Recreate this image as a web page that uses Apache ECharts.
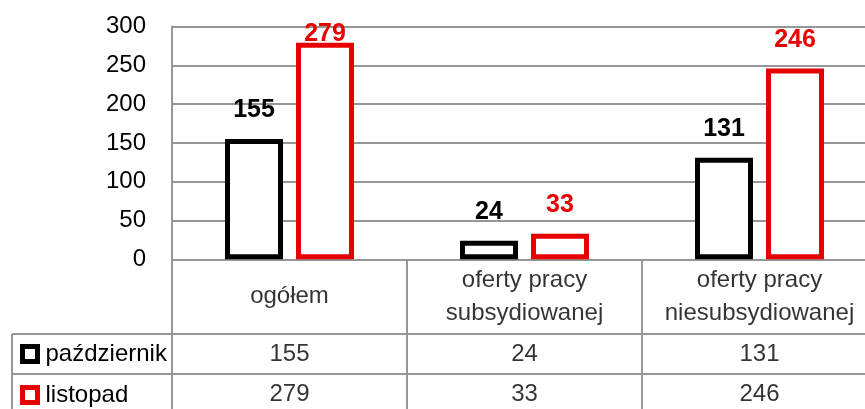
<!DOCTYPE html>
<html>
<head>
<meta charset="utf-8">
<script src="https://cdn.jsdelivr.net/npm/echarts@6/dist/echarts.min.js"></script>
<style>
html,body{margin:0;padding:0;background:#fff;}
#chart{width:865px;height:409px;}
</style>
</head>
<body>
<div id="chart"></div>
<script>
// ---- data ----
const categories = ['ogółem', 'oferty pracy\nsubsydiowanej', 'oferty pracy\nniesubsydiowanej'];
const seriesNames = ['październik', 'listopad'];
const pazdziernik = [155, 24, 131];
const listopad = [279, 33, 246];
const yTicks = [0, 50, 100, 150, 200, 250, 300];

// ---- style ----
const FONT = 'Liberation Sans';
const GRID_COLOR = '#969696';
const colors = ['#000000', '#e60000'];
const seriesValues = [pazdziernik, listopad];

const chart = echarts.init(document.getElementById('chart'));

const lineStyle = {color: GRID_COLOR, width: 2};

const barSeries = seriesNames.map((name, s) => ({
  type: 'bar',
  name: name,
  xAxisIndex: 0, yAxisIndex: 0,
  barWidth: 58,
  barGap: '22.4%',
  itemStyle: {color: '#ffffff', borderColor: colors[s], borderWidth: 5},
  label: {
    show: true, position: 'top', distance: 16,
    fontFamily: FONT, fontSize: 25, fontWeight: 'bold', color: colors[s]
  },
  data: seriesValues[s].map(v => {
    // top-most label is kept inside the chart area (as in the original)
    if (v === Math.max(...listopad) && s === 1) {
      return {value: v, label: {offset: [0, 20]}};
    }
    return v;
  })
}));

const headerSeries = {
  type: 'scatter', xAxisIndex: 1, yAxisIndex: 1,
  symbolSize: 0, silent: true,
  label: {
    show: true, position: 'inside',
    fontFamily: FONT, fontSize: 24, color: '#000', lineHeight: 33,
    formatter: p => categories[p.data[0]]
  },
  data: categories.map((c, i) => [i, 0])
};

const cellSeries = {
  type: 'scatter', xAxisIndex: 2, yAxisIndex: 2,
  symbolSize: 0, silent: true,
  label: {
    show: true, position: 'inside',
    fontFamily: FONT, fontSize: 24, color: '#000',
    formatter: p => String(p.data[2])
  },
  data: seriesValues.flatMap((vals, r) => vals.map((v, i) => [i, r, v]))
};

const gridBase = {outerBoundsMode: 'none', containLabel: false};

const option = {
  backgroundColor: '#ffffff',
  animation: false,
  legend: {
    orient: 'vertical',
    left: 20, top: 342,
    padding: 0,
    itemGap: 17,
    itemWidth: 15, itemHeight: 15,
    icon: 'rect',
    selectedMode: false,
    textStyle: {fontFamily: FONT, fontSize: 24, color: '#000', padding: [0, 0, 0, 3]},
    data: seriesNames.map((n, s) => ({
      name: n,
      itemStyle: {color: '#ffffff', borderColor: colors[s], borderWidth: 5}
    }))
  },
  grid: [
    Object.assign({left: 172, width: 705, top: 26.5, height: 232.8}, gridBase),   // chart
    Object.assign({left: 172, width: 705, top: 259.3, height: 74.7}, gridBase),   // header row
    Object.assign({left: 172, width: 705, top: 334, height: 80}, gridBase),       // value rows
    Object.assign({left: 12, width: 160, top: 334, height: 80}, gridBase)         // legend column
  ],
  xAxis: [
    {gridIndex: 0, type: 'category', data: categories,
     axisLine: {show: true, lineStyle: lineStyle}, axisTick: {show: false},
     axisLabel: {show: false}, splitLine: {show: false}},
    {gridIndex: 1, type: 'category', data: categories,
     axisLine: {show: true, lineStyle: lineStyle}, axisTick: {show: false},
     axisLabel: {show: false}, splitLine: {show: true, lineStyle: lineStyle}},
    {gridIndex: 2, type: 'category', data: categories,
     axisLine: {show: false}, axisTick: {show: false},
     axisLabel: {show: false}, splitLine: {show: true, lineStyle: lineStyle}},
    {gridIndex: 3, type: 'category', data: [''],
     axisLine: {show: false}, axisTick: {show: false},
     axisLabel: {show: false}, splitLine: {show: true, lineStyle: lineStyle}}
  ],
  yAxis: [
    {gridIndex: 0, type: 'value', min: yTicks[0], max: yTicks[yTicks.length - 1],
     interval: yTicks[1] - yTicks[0],
     axisLine: {show: true, lineStyle: lineStyle}, axisTick: {show: false},
     axisLabel: {fontFamily: FONT, fontSize: 24, color: '#000', margin: 26},
     splitLine: {show: true, lineStyle: lineStyle}},
    {gridIndex: 1, type: 'category', data: [''],
     axisLine: {show: false}, axisTick: {show: false},
     axisLabel: {show: false}, splitLine: {show: false}},
    {gridIndex: 2, type: 'category', data: seriesNames, inverse: true,
     axisLine: {show: false}, axisTick: {show: false},
     axisLabel: {show: false}, splitLine: {show: true, lineStyle: lineStyle}},
    {gridIndex: 3, type: 'category', data: seriesNames, inverse: true,
     axisLine: {show: false}, axisTick: {show: false},
     axisLabel: {show: false}, splitLine: {show: true, lineStyle: lineStyle}}
  ],
  series: [...barSeries, headerSeries, cellSeries]
};

chart.setOption(option);
</script>
</body>
</html>
